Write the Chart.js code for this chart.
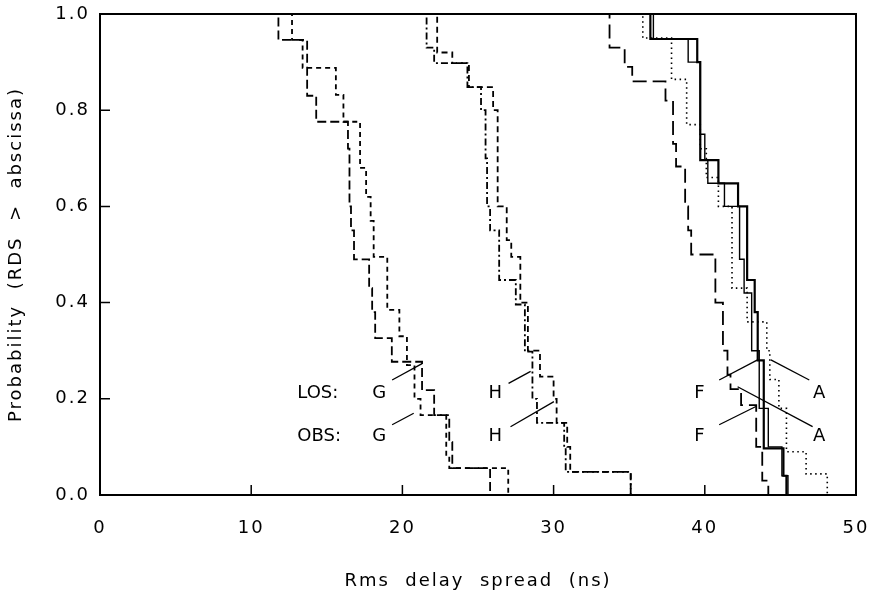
<!DOCTYPE html>
<html>
<head>
<meta charset="utf-8">
<script src="https://cdn.jsdelivr.net/npm/chart.js@4.4.1/dist/chart.umd.min.js"></script>
<style>
  html, body { margin: 0; padding: 0; background: #fff; }
  #wrap { width: 875px; height: 598px; }
</style>
</head>
<body>
<div id="wrap"><canvas id="cdf" width="875" height="598"></canvas></div>
<script>
const xTicks = [0, 10, 20, 30, 40, 50];
const yTicks = [0, 0.2, 0.4, 0.6, 0.8, 1.0];

// each pair: delay (ns) where the curve steps down, probability after the step
const gLeft = [[0, 1], [11.8, 0.946], [13.7, 0.83], [14.3, 0.776], [16.4, 0.72], [16.5, 0.6], [16.6, 0.55],
  [16.8, 0.49], [17.8, 0.43], [18.0, 0.38], [18.2, 0.326], [19.3, 0.277], [21.3, 0.218], [22.1, 0.166],
  [23.1, 0.11], [23.3, 0.056], [25.8, 0]];
const gRight = [[0, 1], [12.7, 0.946], [13.4, 0.888], [15.6, 0.832], [16.1, 0.776], [17.2, 0.68], [17.6, 0.62],
  [17.9, 0.57], [18.1, 0.495], [19.0, 0.385], [19.8, 0.33], [20.3, 0.27], [20.8, 0.2], [21.2, 0.166],
  [22.9, 0.08], [23.1, 0.056], [27.0, 0]];
const hLeft = [[0, 1], [21.6, 0.93], [22.1, 0.898], [24.3, 0.848], [25.2, 0.8], [25.5, 0.7], [25.6, 0.6],
  [25.8, 0.55], [26.4, 0.447], [27.5, 0.396], [28.1, 0.298], [28.6, 0.2], [28.9, 0.15], [30.7, 0.1],
  [30.8, 0.048], [35.1, 0]];
const hRight = [[0, 1], [22.3, 0.92], [23.3, 0.898], [24.4, 0.848], [26.0, 0.8], [26.3, 0.6], [26.9, 0.53],
  [27.2, 0.495], [27.8, 0.4], [28.3, 0.3], [29.1, 0.246], [30.0, 0.2], [30.2, 0.15], [30.9, 0.1],
  [31.1, 0.048], [35.1, 0]];
const fObs = [[0, 1], [33.7, 0.93], [34.7, 0.89], [35.2, 0.86], [37.4, 0.82], [37.9, 0.73], [38.1, 0.683],
  [38.7, 0.6], [38.9, 0.55], [39.1, 0.5], [40.7, 0.4], [41.2, 0.3], [41.5, 0.25], [41.7, 0.22],
  [42.4, 0.187], [43.4, 0.1], [43.8, 0.03], [44.2, 0]];
const fLos = [[0, 1], [36.6, 0.948], [38.9, 0.9], [39.7, 0.75], [40.0, 0.696], [40.2, 0.648], [41.3, 0.6],
  [42.3, 0.49], [42.6, 0.42], [43.1, 0.3], [43.6, 0.18], [44.2, 0.1], [45.1, 0.04], [45.5, 0]];
const aObs = [[0, 1], [36.4, 0.948], [39.5, 0.9], [39.7, 0.696], [40.9, 0.648], [42.2, 0.6], [42.8, 0.447],
  [43.3, 0.38], [43.5, 0.28], [43.9, 0.097], [45.2, 0.04], [45.4, 0]];
const aLos = [[0, 1], [35.9, 0.95], [37.8, 0.864], [38.8, 0.77], [39.7, 0.72], [40.1, 0.66], [40.9, 0.6],
  [41.8, 0.43], [42.8, 0.36], [44.1, 0.3], [44.3, 0.24], [44.9, 0.18], [45.4, 0.09], [46.7, 0.044],
  [48.1, 0]];

// leader lines from the labels to the curves
const leaders = [
  [[19.32, 0.239], [21.3, 0.273]],
  [[19.32, 0.146], [20.75, 0.17]],
  [[27.02, 0.232], [28.48, 0.257]],
  [[27.15, 0.142], [30.02, 0.194]],
  [[40.95, 0.239], [43.49, 0.281]],
  [[40.95, 0.146], [43.38, 0.184]],
  [[44.37, 0.281], [46.91, 0.239]],
  [[42.17, 0.225], [47.13, 0.142]]
];

const labels = [
  ['LOS:', 13.05, 0.212], ['OBS:', 13.05, 0.121],
  ['G', 18.0, 0.212], ['G', 18.0, 0.121],
  ['H', 25.7, 0.212], ['H', 25.7, 0.121],
  ['F', 39.3, 0.212], ['F', 39.3, 0.121],
  ['A', 47.15, 0.212], ['A', 47.15, 0.121]
];

const pts = arr => arr.map(([x, y]) => ({ x, y }));

function curve(name, data, dash, width) {
  return {
    label: name,
    data: pts(data),
    borderColor: '#000',
    borderWidth: width,
    borderDash: dash,
    pointRadius: 0,
    stepped: true,
    fill: false
  };
}

const datasets = [
  curve('G LOS', gLeft, [9, 4], 1.8),
  curve('G OBS', gRight, [5, 4], 1.8),
  curve('H LOS', hLeft, [7, 3, 2, 3], 1.8),
  curve('H OBS', hRight, [6, 4], 1.8),
  curve('F OBS', fObs, [14, 6], 1.8),
  curve('F LOS', fLos, [], 1.4),
  curve('A OBS', aObs, [], 2.2),
  curve('A LOS', aLos, [1.5, 3.5], 1.6)
];
leaders.forEach((l, i) => {
  datasets.push({
    label: 'leader' + i,
    data: pts(l),
    borderColor: '#000',
    borderWidth: 1.3,
    pointRadius: 0,
    fill: false
  });
});

const framePlugin = {
  id: 'frame',
  beforeDraw(chart) {
    chart.ctx.letterSpacing = '2px';
  },
  afterDatasetsDraw(chart) {
    const { ctx, chartArea: a, scales } = chart;
    ctx.save();
    ctx.strokeStyle = '#000';
    ctx.lineWidth = 2;
    ctx.strokeRect(a.left, a.top, a.right - a.left, a.bottom - a.top);
    ctx.beginPath();
    xTicks.slice(1, -1).forEach(v => {
      const px = scales.x.getPixelForValue(v);
      ctx.moveTo(px, a.bottom);
      ctx.lineTo(px, a.bottom - 10);
    });
    yTicks.slice(1, -1).forEach(v => {
      const py = scales.y.getPixelForValue(v);
      ctx.moveTo(a.left, py);
      ctx.lineTo(a.left + 10, py);
    });
    ctx.lineWidth = 1.5;
    ctx.stroke();

    ctx.letterSpacing = '0px';
    ctx.fillStyle = '#000';
    ctx.font = '18px "DejaVu Sans"';
    ctx.textBaseline = 'middle';
    ctx.textAlign = 'left';
    labels.forEach(([t, x, y]) => {
      ctx.fillText(t, scales.x.getPixelForValue(x), scales.y.getPixelForValue(y));
    });
    ctx.restore();
  }
};

new Chart(document.getElementById('cdf'), {
  type: 'line',
  data: { datasets },
  options: {
    responsive: false,
    animation: false,
    devicePixelRatio: 1,
    layout: { padding: { top: 14, right: 19, left: 0, bottom: 0 } },
    plugins: { legend: { display: false }, tooltip: { enabled: false } },
    scales: {
      x: {
        type: 'linear',
        min: 0,
        max: 50,
        afterBuildTicks: s => { s.ticks = xTicks.map(v => ({ value: v })); },
        afterFit: s => { s.height = 103; s.paddingLeft = 0; s.paddingRight = 0; },
        grid: { display: false, drawTicks: false },
        border: { display: false },
        ticks: { color: '#000', padding: 23, font: { family: 'DejaVu Sans', size: 18 }, maxRotation: 0 },
        title: {
          display: true,
          text: 'Rms  delay  spread  (ns)',
          color: '#000',
          font: { family: 'DejaVu Sans', size: 18 },
          padding: { top: 0, bottom: 6 }
        }
      },
      y: {
        min: 0,
        max: 1,
        afterBuildTicks: s => { s.ticks = yTicks.map(v => ({ value: v })); },
        afterFit: s => { s.width = 100; s.paddingTop = 0; s.paddingBottom = 0; },
        grid: { display: false, drawTicks: false },
        border: { display: false },
        ticks: { color: '#000', padding: 10, font: { family: 'DejaVu Sans', size: 18 }, callback: v => v.toFixed(1) },
        title: {
          display: true,
          text: 'Probability  (RDS  >  abscissa)',
          color: '#000',
          font: { family: 'DejaVu Sans', size: 18 },
          padding: { top: 6, bottom: 0 }
        }
      }
    }
  },
  plugins: [framePlugin]
});
</script>
</body>
</html>
